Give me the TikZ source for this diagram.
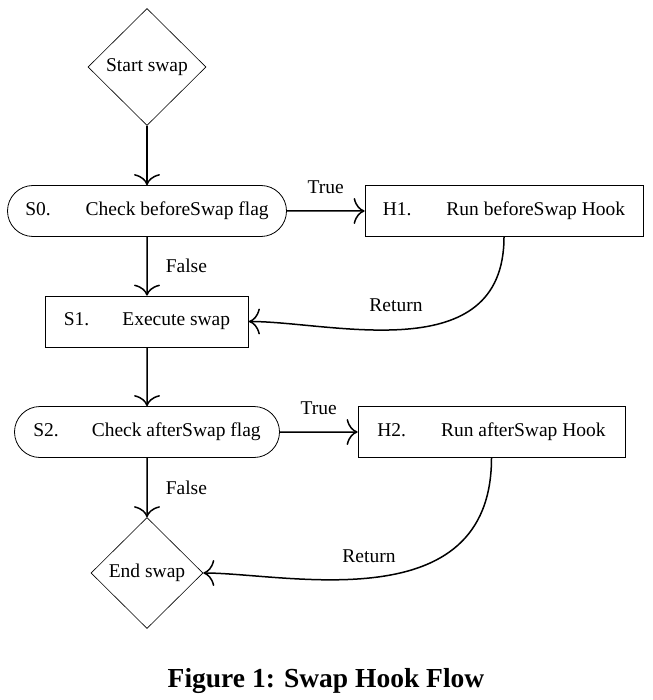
\documentclass[tikz,border=0pt]{standalone}
\usepackage{fontspec}
\setmainfont{Liberation Serif}
\usetikzlibrary{shapes,arrows,arrows.meta}
\tikzstyle{stepbox}=[draw,rectangle,line width=0.8pt,minimum height=51pt,inner sep=0pt]
\tikzstyle{flag}=[draw,rounded rectangle,line width=0.8pt,minimum height=51pt,inner sep=0pt]
\tikzstyle{term}=[draw,diamond,line width=0.6pt,inner sep=0pt]
\tikzstyle{flow}=[line width=1.5pt,-{To[length=11pt,width=26pt]}]
\tikzstyle{lbl}=[inner sep=0pt]

\begin{document}
\begin{tikzpicture}[x=1pt,y=-1pt,font=\fontsize{19.5}{23}\selectfont]
	\useasboundingbox (0,0) rectangle (652,700);
	% left column
	\node[term,minimum width=118pt,minimum height=117pt] (start) at (147,67) {Start swap};
	\node[flag,minimum width=279pt] (s0) at (147,211) {S0.\hspace{35pt}Check beforeSwap flag};
	\node[stepbox,minimum width=203pt] (s1) at (147,321.5) {S1.\hspace{33pt}Execute swap};
	\node[flag,minimum width=265pt] (s2) at (147,432) {S2.\hspace{33pt}Check afterSwap flag};
	\node[term,minimum width=112pt,minimum height=111pt] (end) at (147,573) {End swap};
	% hooks
	\node[stepbox,minimum width=278pt] (h1) at (504,211) {H1.\hspace{35pt}Run beforeSwap Hook};
	\node[stepbox,minimum width=267pt] (h2) at (491.5,432) {H2.\hspace{35pt}Run afterSwap Hook};

	\draw[flow] (start) -- (s0);
	\draw[flow] (s0) -- node[lbl,right=18pt] {False} (s1);
	\draw[flow] (s0) -- node[lbl,above=16.5pt] {True} (h1);
	\draw[flow] (h1.south) to [out=-90,in=0,out distance=133pt,in distance=82pt] (s1.east);
	\node[lbl] (ret1) at (396,305) {Return};

	\draw[flow] (s1) -- (s2);
	\draw[flow] (s2) -- node[lbl,right=18pt] {False} (end);
	\draw[flow] (s2) -- node[lbl,above=16.5pt] {True} (h2);
	\draw[flow] (h2.south) to [out=-90,in=0,out distance=164pt,in distance=82pt] (end.east);
	\node[lbl] (ret2) at (369,556) {Return};

	\node[font=\fontsize{27.5}{33}\selectfont\bfseries] (cap) at (326,681) {Figure 1: Swap Hook Flow};
\end{tikzpicture}
\end{document}
